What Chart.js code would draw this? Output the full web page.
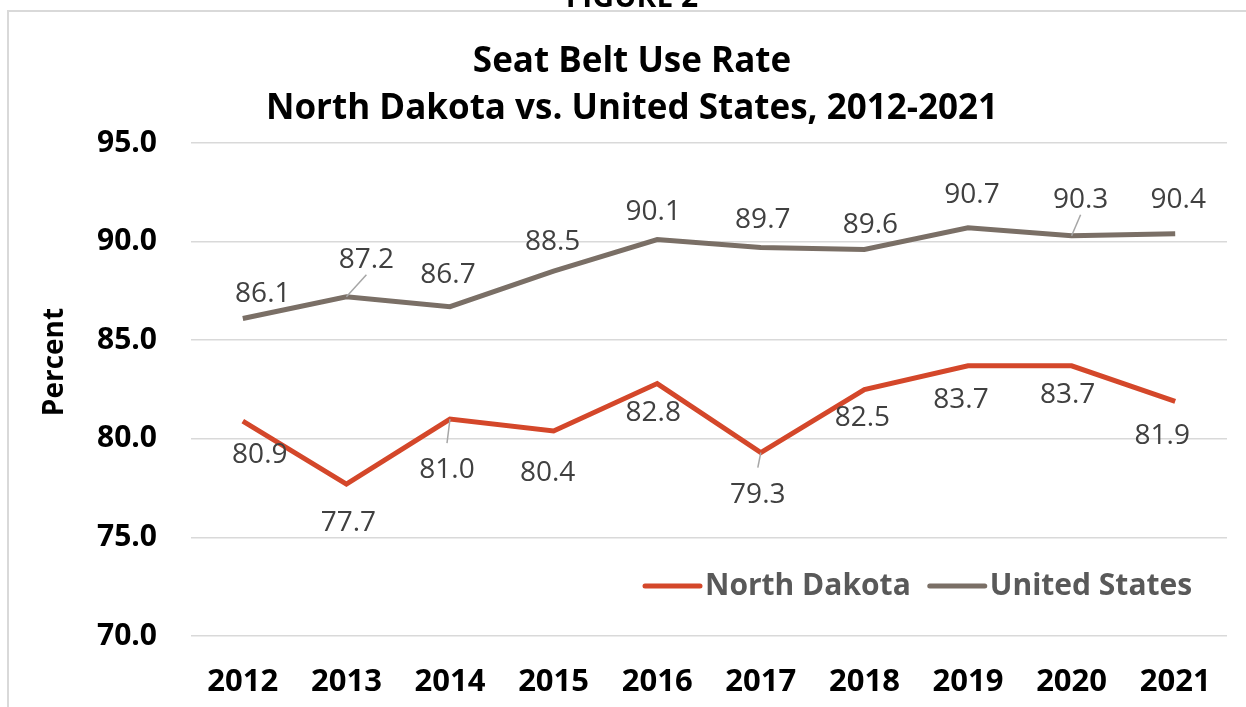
<!DOCTYPE html>
<html>
<head>
<meta charset="utf-8">
<script src="https://cdn.jsdelivr.net/npm/chart.js@4"></script>
<style>
  body { margin: 0; background: #fff; }
  #wrap { width: 1246px; height: 707px; }
</style>
</head>
<body>
<div id="wrap"><canvas id="chart" width="1246" height="707"></canvas></div>
<script>
// Data
const years = ['2012', '2013', '2014', '2015', '2016', '2017', '2018', '2019', '2020', '2021'];
const northDakota = [80.9, 77.7, 81.0, 80.4, 82.8, 79.3, 82.5, 83.7, 83.7, 81.9];
const unitedStates = [86.1, 87.2, 86.7, 88.5, 90.1, 89.7, 89.6, 90.7, 90.3, 90.4];
const yTicks = [70, 75, 80, 85, 90, 95];

// Label offsets from each point (px), like Excel's manual placement
const ndLabelOffsets = [[17, 34], [2, 39], [-3, 51], [-6, 42], [-4, 29], [-3, 42], [-2, 29], [-7, 34], [-4, 29], [-13, 35]];
const usLabelOffsets = [[20, -24], [20, -37], [-2, -32], [-1, -29], [-4, -28], [2, -27], [6, -24], [4, -33], [9, -36], [3, -34]];
// which labels get a small leader line
const ndLeaders = [2, 5];
const usLeaders = [1, 8];

const FONT = "'Open Sans', 'Noto Sans', sans-serif";

// Draws frame, clipped figure caption, title, axis title, data labels and legend
const decorPlugin = {
  id: 'decor',
  beforeDraw(chart) {
    const ctx = chart.ctx;
    ctx.save();
    ctx.fillStyle = '#fff';
    ctx.fillRect(0, 0, chart.width, chart.height);
    ctx.strokeStyle = '#d9d9d9';
    ctx.lineWidth = 2;
    ctx.strokeRect(8, 11, 1400, 900);
    ctx.fillStyle = '#000';
    ctx.font = 'bold 30px ' + FONT;
    ctx.textAlign = 'center';
    ctx.textBaseline = 'alphabetic';
    ctx.fillText('FIGURE 2', 632, 7);
    ctx.font = 'bold 35px ' + FONT;
    ctx.textBaseline = 'middle';
    ctx.fillText('Seat Belt Use Rate', 632, 62);
    ctx.fillText('North Dakota vs. United States, 2012-2021', 632, 109);
    // y axis title
    ctx.translate(55, 362);
    ctx.rotate(-Math.PI / 2);
    ctx.font = 'bold 28px ' + FONT;
    ctx.fillText('Percent', 0, 0);
    ctx.restore();
  },
  afterDatasetsDraw(chart) {
    const ctx = chart.ctx;
    const sets = [
      { meta: chart.getDatasetMeta(0), data: northDakota, offs: ndLabelOffsets, leaders: ndLeaders },
      { meta: chart.getDatasetMeta(1), data: unitedStates, offs: usLabelOffsets, leaders: usLeaders }
    ];
    ctx.save();
    sets.forEach(s => {
      s.meta.data.forEach((pt, i) => {
        const lx = pt.x + s.offs[i][0];
        const ly = pt.y + s.offs[i][1];
        if (s.leaders.includes(i)) {
          ctx.strokeStyle = '#a6a6a6';
          ctx.lineWidth = 1.5;
          ctx.beginPath();
          ctx.moveTo(pt.x, pt.y);
          const ey = s.offs[i][1] < 0 ? ly + 15 : ly - 27;
          ctx.lineTo(lx, ey);
          ctx.stroke();
        }
        ctx.fillStyle = '#404040';
        ctx.font = '28px ' + FONT;
        ctx.textAlign = 'center';
        ctx.textBaseline = 'middle';
        ctx.fillText(s.data[i].toFixed(1), lx, ly);
      });
    });

    // legend inside the plot, bottom right
    let x = 645;
    const y = 586;
    chart.data.datasets.forEach(ds => {
      ctx.strokeStyle = ds.borderColor;
      ctx.lineWidth = 5;
      ctx.lineCap = 'round';
      ctx.beginPath();
      ctx.moveTo(x, y);
      ctx.lineTo(x + 55, y);
      ctx.stroke();
      ctx.fillStyle = '#595959';
      ctx.font = 'bold 30px ' + FONT;
      ctx.textAlign = 'left';
      ctx.textBaseline = 'middle';
      ctx.fillText(ds.label, x + 60, y);
      x += 60 + ctx.measureText(ds.label).width + 19;
    });
    ctx.restore();
  }
};

new Chart(document.getElementById('chart'), {
  type: 'line',
  data: {
    labels: years,
    datasets: [
      {
        label: 'North Dakota',
        data: northDakota,
        borderColor: '#d4472a',
        borderWidth: 5,
        pointRadius: 0,
        tension: 0
      },
      {
        label: 'United States',
        data: unitedStates,
        borderColor: '#7a6f66',
        borderWidth: 5,
        pointRadius: 0,
        tension: 0
      }
    ]
  },
  options: {
    responsive: false,
    animation: false,
    layout: { padding: { top: 143, left: 0, right: 19, bottom: 0 } },
    plugins: {
      legend: { display: false },
      title: { display: false },
      tooltip: { enabled: false }
    },
    scales: {
      x: {
        offset: true,
        grid: { display: false, drawTicks: false },
        border: { display: false },
        ticks: {
          color: '#000',
          font: { family: FONT, size: 31, weight: 'bold' },
          padding: 28,
          maxRotation: 0
        },
        afterFit(scale) { scale.height = 71; }
      },
      y: {
        min: 70,
        max: 95,
        afterBuildTicks(scale) { scale.ticks = yTicks.map(v => ({ value: v })); },
        grid: { color: '#d9d9d9', lineWidth: 1.5, drawTicks: false },
        border: { display: false },
        ticks: {
          color: '#000',
          font: { family: FONT, size: 30, weight: 'bold' },
          padding: 34,
          callback: v => v.toFixed(1)
        },
        afterFit(scale) { scale.width = 191; }
      }
    }
  },
  plugins: [decorPlugin]
});
</script>
</body>
</html>
